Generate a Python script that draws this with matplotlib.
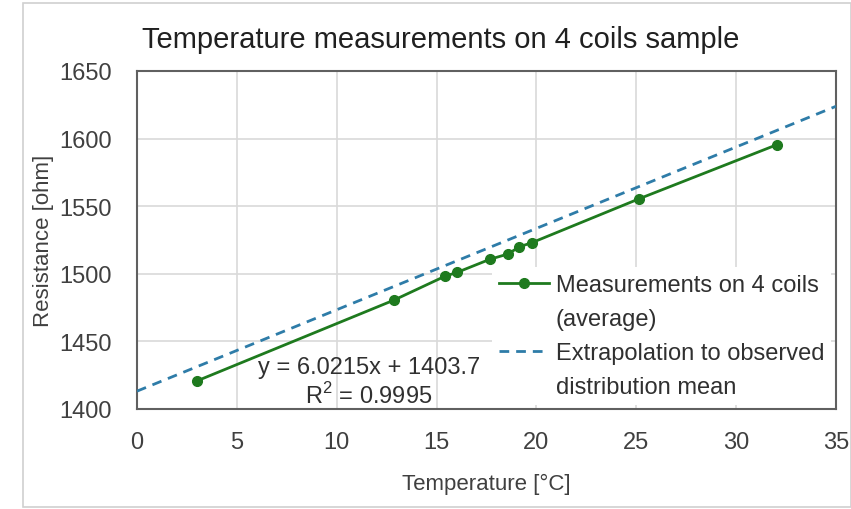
import matplotlib
matplotlib.use("Agg")
import matplotlib.pyplot as plt
from matplotlib.patches import Rectangle
from matplotlib.lines import Line2D
from matplotlib import font_manager

# Data
temperature = [2.99, 12.86, 15.42, 16.02, 17.68, 18.57, 19.15, 19.77, 25.16, 32.06]
resistance = [1420.7, 1480.5, 1498.2, 1501.0, 1510.8, 1514.6, 1520.0, 1523.0, 1555.6, 1595.6]
extrap_x = [0, 35]
extrap_y = [1413.2, 1623.9]
series_labels = [["Measurements on 4 coils", "(average)"],
                 ["Extrapolation to observed", "distribution mean"]]
title = "Temperature measurements on 4 coils sample"
xlabel = "Temperature [°C]"
ylabel = "Resistance [ohm]"
eq_text = "y = 6.0215x + 1403.7\nR$^2$ = 0.9995"

names = {f.name for f in font_manager.fontManager.ttflist}
fam = "Liberation Sans Narrow" if "Liberation Sans Narrow" in names else "Liberation Sans"
plt.rcParams['font.family'] = [fam, 'DejaVu Sans']
plt.rcParams['mathtext.fontset'] = 'custom'
plt.rcParams['mathtext.rm'] = fam

W, H = 851, 510
fig = plt.figure(figsize=(W/100, H/100), dpi=100)
ax = fig.add_axes([137/W, 1-410/H, (836-137)/W, (410-72)/H])

text_col = "#404040"
l1, = ax.plot(temperature, resistance, color="#1e7a1e", lw=2, marker="o", ms=7, zorder=3)
l2, = ax.plot(extrap_x, extrap_y, color="#2e7ca8", lw=2, ls=(0, (3.5, 2.5)), zorder=3)

ax.set_xlim(0, 35)
ax.set_ylim(1400, 1650)
ax.set_xticks(range(0, 36, 5))
ax.set_yticks(range(1400, 1651, 50))
ax.grid(True, color="#d9d9d9", lw=1.2)
ax.set_axisbelow(True)
for s in ax.spines.values():
    s.set_color("#606060")
    s.set_linewidth(1.5)
ax.tick_params(length=0, labelsize=17, colors=text_col)
ax.tick_params(axis="x", pad=16)
ax.tick_params(axis="y", pad=18)
ax.set_xlabel(xlabel, fontsize=16, color=text_col, labelpad=14)
ax.set_ylabel(ylabel, fontsize=16, color=text_col, labelpad=4)
fig.text(441/W, 1-40/H, title, fontsize=21, color="#202020", ha="center", va="center")

ax.text(11.6, 1420, eq_text, fontsize=17, color="#303030", ha="center", va="center", linespacing=1.15, zorder=4)

blank = Line2D([], [], color="none")
handles = [l1, blank, l2, blank]
labels = [series_labels[0][0], series_labels[0][1], series_labels[1][0], series_labels[1][1]]
leg = ax.legend(handles, labels, loc="lower right", bbox_to_anchor=(1.01, -0.023), frameon=True, fontsize=17,
                handlelength=2.1, handletextpad=0.3, labelspacing=0.5, borderpad=0.3,
                facecolor="white", edgecolor="none", framealpha=1, fancybox=False)
for t in leg.get_texts():
    t.set_color("#303030")

fig.patches.append(Rectangle((23/W, 2/H), (W-23)/W, (H-6)/H, transform=fig.transFigure,
                             fill=False, edgecolor="#d0d0d0", lw=1.2))

fig.savefig("out.png", dpi=100)
